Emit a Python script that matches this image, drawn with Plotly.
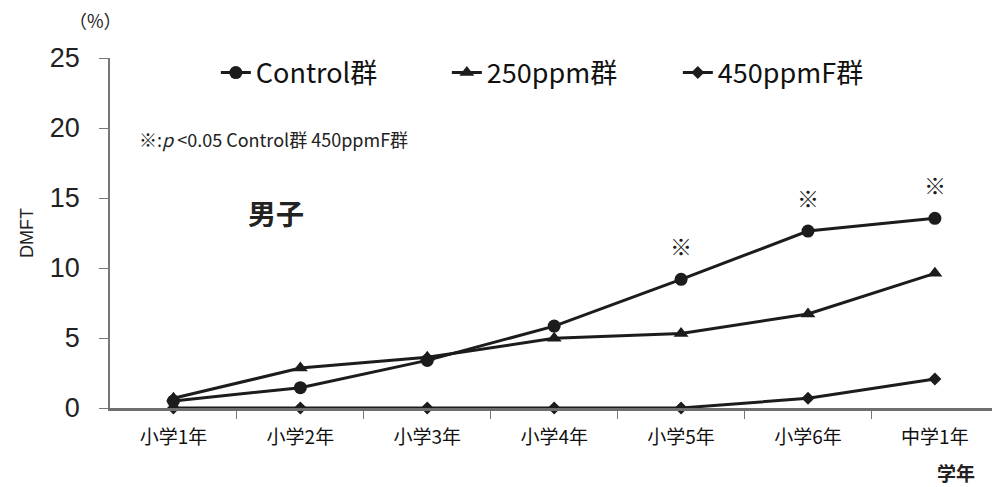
import plotly.graph_objects as go

# School grade categories and DMFT values per group
grades = ["小学1年", "小学2年", "小学3年", "小学4年", "小学5年", "小学6年", "中学1年"]
control = [0.5, 1.45, 3.4, 5.85, 9.19, 12.64, 13.55]
ppm250 = [0.7, 2.85, 3.62, 4.98, 5.33, 6.72, 9.62]
ppm450f = [0.0, 0.0, 0.0, 0.0, 0.0, 0.69, 2.07]

# Grades where Control vs 450ppmF differ (p < 0.05)
significant = ["小学5年", "小学6年", "中学1年"]

y_ticks = [0, 5, 10, 15, 20, 25]

xpos = list(range(len(grades)))
line_color = "#1c1c1c"
font_jp = "Noto Sans CJK JP"

fig = go.Figure()
series = [
    ("Control群", control, "circle", 13),
    ("250ppm群", ppm250, "triangle-up", 13),
    ("450ppmF群", ppm450f, "diamond", 10),
]
for name, vals, sym, size in series:
    fig.add_trace(go.Scatter(
        x=xpos, y=vals, name=name, mode="lines+markers",
        line=dict(color=line_color, width=3),
        marker=dict(symbol=sym, size=size, color=line_color),
        cliponaxis=False,
    ))

# significance marks above the Control points
for g in significant:
    i = grades.index(g)
    fig.add_annotation(x=i, y=control[i], text="※", showarrow=False,
                       yshift=34, font=dict(size=22, color=line_color, family=font_jp))

fig.add_annotation(xref="paper", yref="paper", x=0.031, y=0.7686,
                   xanchor="left", yanchor="middle",
                   text="※:<i>p</i> <0.05 Control群 450ppmF群", showarrow=False,
                   font=dict(size=18, color="#222", family=font_jp))
fig.add_annotation(x=0.81, y=13.9, text="<b>男子</b>", showarrow=False,
                   xanchor="center", yanchor="middle",
                   font=dict(size=28, color="#222", family=font_jp))
fig.add_annotation(xref="paper", yref="paper", x=-0.017, y=1.109, text="（%）",
                   xanchor="center", yanchor="middle",
                   showarrow=False, font=dict(size=18, color="#222", family=font_jp))
fig.add_annotation(xref="paper", yref="paper", x=0.959, y=-0.183,
                   xanchor="center", yanchor="middle",
                   text="<b>学年</b>", showarrow=False,
                   font=dict(size=19, color="#222", family=font_jp))

fig.update_layout(
    width=992, height=487,
    margin=dict(l=110, r=0, t=58, b=79),
    paper_bgcolor="white", plot_bgcolor="white",
    showlegend=True,
    legend=dict(orientation="h", x=0.12, y=0.957, xanchor="left", yanchor="middle",
                font=dict(size=27, color="#111", family=font_jp),
                entrywidth=186, entrywidthmode="pixels",
                itemwidth=30, bgcolor="rgba(0,0,0,0)"),
    xaxis=dict(range=[-0.5, 6.45], tickvals=xpos, ticktext=grades, ticks="",
               showline=True, linecolor="#6e6e6e", linewidth=2.5, showgrid=False,
               zeroline=False, ticklabelstandoff=10,
               tickfont=dict(size=19, color="#111", family=font_jp),
               minor=dict(tickvals=[i + 0.5 for i in range(6)], ticks="outside",
                          ticklen=8, tickcolor="#777", tickwidth=1)),
    yaxis=dict(range=[0, 25], tickvals=y_ticks, ticks="outside", ticklen=9,
               tickcolor="#777", showline=True, linecolor="#777", linewidth=1.5,
               showgrid=False, zeroline=False, ticklabelstandoff=14,
               tickfont=dict(size=27, color="#222", family="Liberation Sans"),
               title=dict(text="DMFT", standoff=12,
                          font=dict(size=18, color="#222", family="Liberation Sans"))),
)

fig.write_html("out.html")
